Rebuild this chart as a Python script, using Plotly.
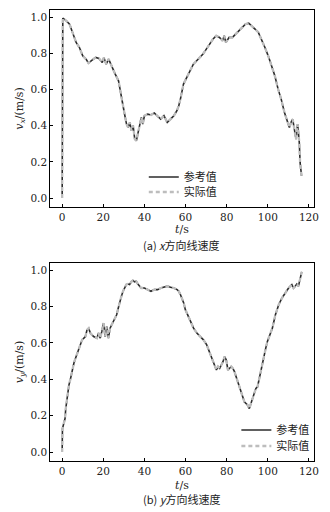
import plotly.graph_objects as go

# ---- data: (a) x-direction linear velocity ----
t_x = [0, 0.3, 0.8, 2, 3.6, 5.2, 6.8, 8.4, 10, 11.6, 12.8, 14.7, 16.3, 17.9, 19.5, 20.3, 21.4, 22.6,
       24.2, 25.8, 27.4, 28.2, 29.3, 30.5, 31.3, 32.1, 32.9, 33.7, 34.5, 35.3, 36.1, 36.9, 37.7, 38.5,
       39.2, 40, 41.6, 43.2, 44.8, 46.4, 47.9, 49.5, 51.1, 52.7, 54.3, 55.8, 56.7, 57.5, 58.2, 59,
       60.6, 62.2, 63.8, 65.4, 66.9, 68.5, 70.1, 71.7, 73.3, 74.9, 76.5, 78, 78.8, 79.6, 81.2, 82.8,
       84.4, 86, 87.5, 89.1, 90.7, 92.3, 93.8, 95.4, 97, 98.6, 100.2, 101.8, 103.4, 105, 106.5, 108.1,
       109.7, 110.5, 111.3, 112.1, 112.9, 113.7, 114.5, 115.3, 115.7, 116.4]
vx_ref = [0, 0.994, 0.99, 0.98, 0.961, 0.915, 0.86, 0.832, 0.786, 0.768, 0.746, 0.764, 0.777, 0.772,
          0.75, 0.777, 0.74, 0.768, 0.722, 0.685, 0.648, 0.593, 0.519, 0.455, 0.409, 0.39, 0.418,
          0.372, 0.40, 0.326, 0.317, 0.363, 0.409, 0.446, 0.409, 0.455, 0.464, 0.459, 0.47, 0.455,
          0.436, 0.455, 0.418, 0.436, 0.455, 0.483, 0.51, 0.547, 0.584, 0.63, 0.667, 0.703, 0.74,
          0.759, 0.777, 0.796, 0.823, 0.851, 0.878, 0.897, 0.888, 0.869, 0.897, 0.86, 0.888, 0.888,
          0.906, 0.924, 0.943, 0.961, 0.967, 0.952, 0.934, 0.915, 0.878, 0.832, 0.786, 0.731, 0.676,
          0.602, 0.547, 0.473, 0.418, 0.39, 0.418, 0.436, 0.381, 0.326, 0.409, 0.308, 0.197, 0.123]
vx_act = vx_ref

# ---- data: (b) y-direction linear velocity ----
t_y = [0, 0.15, 1, 1.4, 1.75, 2.5, 3.3, 4.1, 4.9, 5.7, 6.5, 7.3, 8.1, 9.7, 11.3, 12.1, 12.9, 13.7,
       15.3, 16.9, 17.7, 18.5, 19.3, 20.1, 20.9, 21.7, 22.5, 23.3, 24.1, 25.7, 26.5, 27.3, 28, 28.8,
       29.6, 30.4, 31.2, 32, 32.8, 33.6, 34.4, 35.2, 36, 36.8, 38.4, 40, 41.6, 43.2, 44.8, 46.4, 48,
       49.6, 51.2, 52.7, 54.3, 55.9, 56.7, 57.5, 59.1, 59.9, 60.7, 61.5, 62.3, 63.9, 65.5, 67.1,
       68.7, 70.3, 71.9, 73.5, 74.3, 75, 75.8, 76.6, 77.4, 78.2, 79, 79.8, 80.6, 81.4, 82.2, 83,
       83.8, 84.6, 85.4, 86.2, 87, 87.8, 88.6, 89.4, 90.2, 91, 91.8, 92.6, 93.4, 94.2, 95, 95.8,
       96.6, 97.4, 98.2, 99, 99.8, 100.6, 102.2, 103.7, 105.3, 106.9, 108.5, 110.1, 111.7, 112.5,
       113.3, 114.1, 114.9, 115.7, 116.5]
vy_ref = [0.0, 0.129, 0.166, 0.184, 0.239, 0.313, 0.368, 0.405, 0.451, 0.488, 0.516, 0.543, 0.567,
          0.617, 0.635, 0.672, 0.681, 0.654, 0.635, 0.626, 0.654, 0.626, 0.663, 0.709, 0.635, 0.691,
          0.626, 0.681, 0.70, 0.737, 0.755, 0.792, 0.829, 0.856, 0.884, 0.906, 0.921, 0.924, 0.921,
          0.936, 0.943, 0.936, 0.939, 0.924, 0.902, 0.902, 0.893, 0.884, 0.893, 0.893, 0.902, 0.906,
          0.912, 0.906, 0.902, 0.893, 0.884, 0.866, 0.820, 0.783, 0.764, 0.746, 0.718, 0.681, 0.654,
          0.635, 0.617, 0.589, 0.543, 0.497, 0.470, 0.451, 0.470, 0.460, 0.479, 0.497, 0.525, 0.506,
          0.451, 0.460, 0.470, 0.460, 0.442, 0.414, 0.387, 0.359, 0.341, 0.304, 0.276, 0.267, 0.258,
          0.239, 0.267, 0.295, 0.322, 0.350, 0.359, 0.405, 0.442, 0.497, 0.534, 0.571, 0.608, 0.635,
          0.681, 0.755, 0.810, 0.847, 0.875, 0.902, 0.921, 0.902, 0.912, 0.924, 0.912, 0.958, 0.991]
vy_act = vy_ref

x_ticks = [0, 20, 40, 60, 80, 100, 120]
y_ticks = [0.0, 0.2, 0.4, 0.6, 0.8, 1.0]
y_ticktext = ["0.0", "0.2", "0.4", "0.6", "0.8", "1.0"]
series_names = ["参考值", "实际值"]

SERIF = "DejaVu Serif"
CJK = "Noto Sans CJK SC"
REF_COLOR = "#2b2b2b"
ACT_COLOR = "#bdbdbd"

fig = go.Figure()

# one legend per entry so that rows can sit as close as in the reference
legend_ids = [("legend", "legend2"), ("legend3", "legend4")]
for (tt, ref, act, xa, ya, lgs) in [(t_x, vx_ref, vx_act, "x", "y", legend_ids[0]),
                                      (t_y, vy_ref, vy_act, "x2", "y2", legend_ids[1])]:
    fig.add_trace(go.Scatter(x=tt, y=ref, mode="lines", name=series_names[0],
                             line=dict(color=REF_COLOR, width=1.6),
                             xaxis=xa, yaxis=ya, legend=lgs[0]))
    fig.add_trace(go.Scatter(x=tt, y=act, mode="lines", name=series_names[1],
                             line=dict(color=ACT_COLOR, width=2.3, dash="4px,3px"),
                             xaxis=xa, yaxis=ya, legend=lgs[1]))

axis_common = dict(showline=True, linecolor="black", linewidth=1, mirror=True,
                   ticks="inside", ticklen=3, tickwidth=1, tickcolor="black",
                   showgrid=False, zeroline=False,
                   tickfont=dict(family=SERIF, size=10.5, color="#222"))

xr = [-5.8, 122.3]
yr = [-0.0495, 1.0395]
xdom = [51 / 330, 318.5 / 330]

def leg(x_px, y_px):
    return dict(x=x_px / 330, y=(512 - y_px) / 512, xanchor="left", yanchor="middle",
                bgcolor="rgba(0,0,0,0)", font=dict(family=CJK, size=11, color="#222"),
                itemwidth=30, borderwidth=0)

fig.update_layout(
    width=330, height=512,
    margin=dict(l=0, r=0, t=0, b=0),
    paper_bgcolor="white", plot_bgcolor="white",
    xaxis=dict(domain=xdom, range=xr, anchor="y", tickvals=x_ticks, **axis_common),
    yaxis=dict(domain=[(512 - 207) / 512, (512 - 10) / 512], range=yr, anchor="x",
               tickvals=y_ticks, ticktext=y_ticktext,
               title=dict(text="<i>v</i><sub><i>x</i></sub>/(m/s)",
                          font=dict(family=SERIF, size=11, color="#222"), standoff=4),
               **axis_common),
    xaxis2=dict(domain=xdom, range=xr, anchor="y2", tickvals=x_ticks, **axis_common),
    yaxis2=dict(domain=[(512 - 461) / 512, (512 - 263) / 512], range=yr, anchor="x2",
                tickvals=y_ticks, ticktext=y_ticktext,
                title=dict(text="<i>v</i><sub><i>y</i></sub>/(m/s)",
                           font=dict(family=SERIF, size=11, color="#222"), standoff=4),
                **axis_common),
    legend=leg(146, 177),
    legend2=leg(146, 192),
    legend3=leg(240, 430),
    legend4=leg(240, 446),
    showlegend=True,
)

xc = (xdom[0] + xdom[1]) / 2
annots = [
    ("<i>t</i>/s", (512 - 229) / 512, SERIF),
    ("(a) <i>x</i>方向线速度", (512 - 245) / 512, CJK),
    ("<i>t</i>/s", (512 - 485) / 512, SERIF),
    ("(b) <i>y</i>方向线速度", (512 - 499) / 512, CJK),
]
for text, yy, fam in annots:
    fig.add_annotation(text=text, x=xc, y=yy, xref="paper", yref="paper",
                       xanchor="center", yanchor="middle", showarrow=False,
                       font=dict(family=fam, size=11, color="#222"))

fig.write_html("out.html", config={"displayModeBar": False},
               post_script="document.body.style.margin='0';document.body.style.overflow='hidden';")
